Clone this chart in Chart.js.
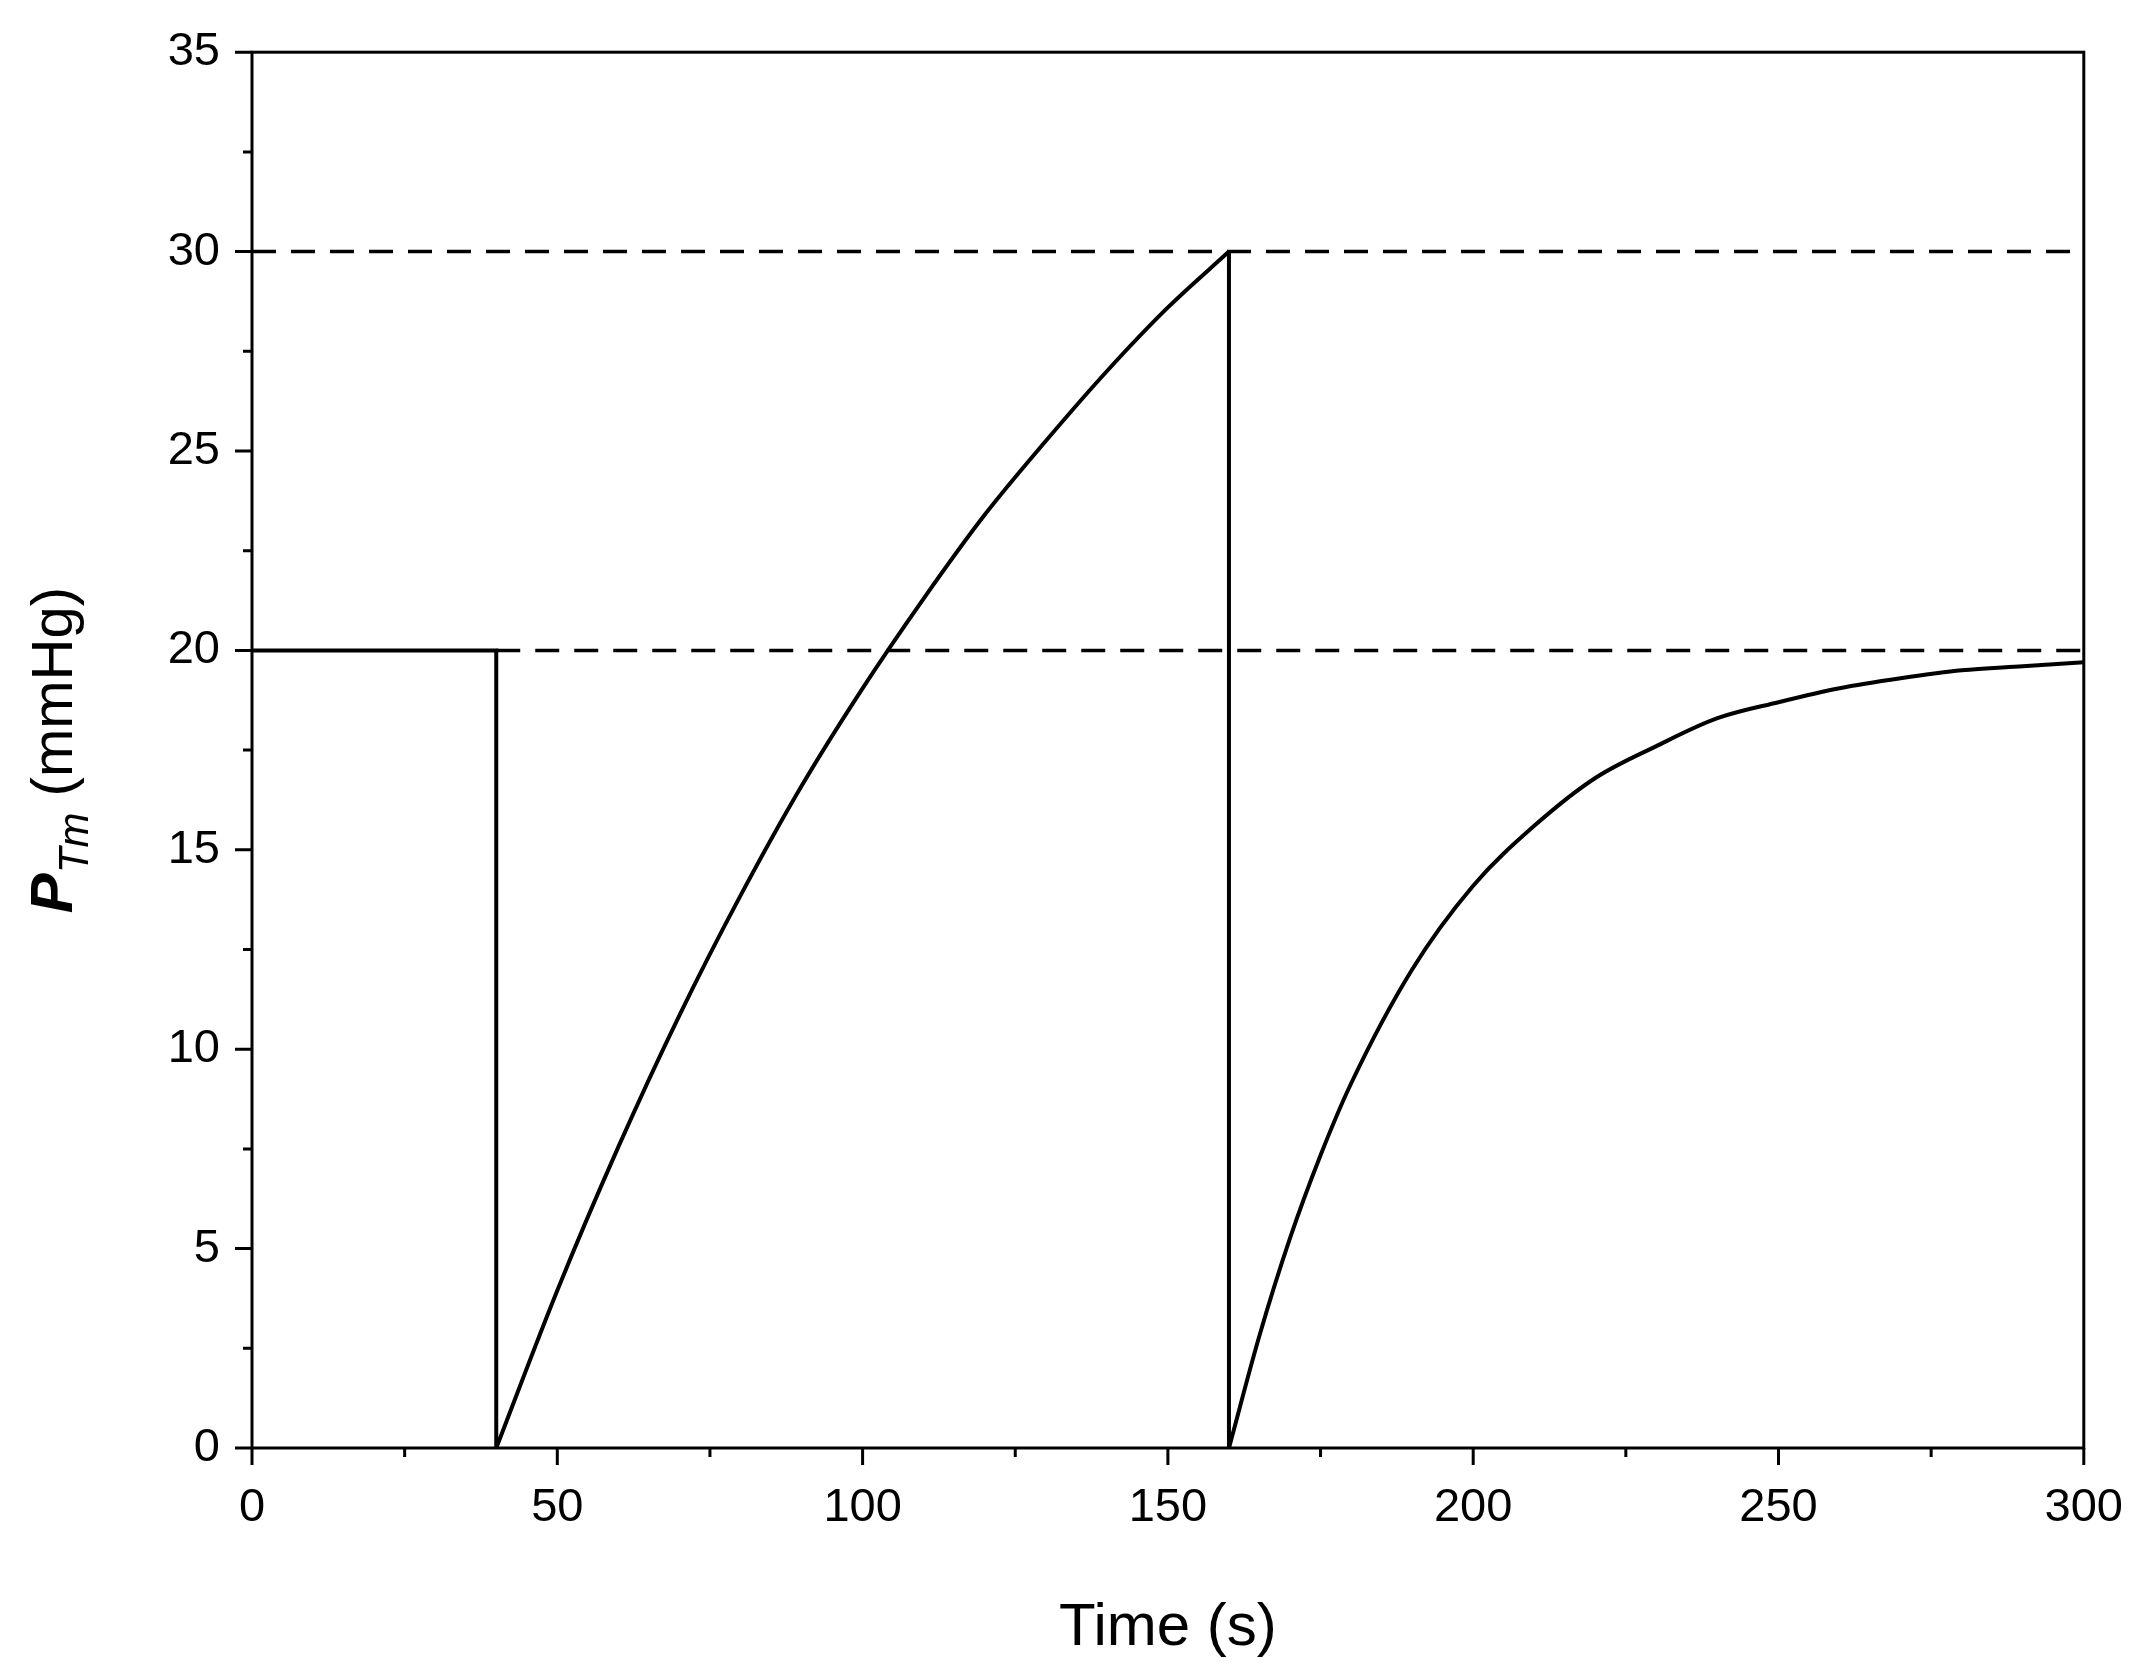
<!DOCTYPE html>
<html><head><meta charset="utf-8">
<script src="https://cdn.jsdelivr.net/npm/chart.js@4"></script>
<style>html,body{margin:0;background:#fff}#c{display:block}</style>
</head><body>
<div style="width:2147px;height:1670px"><canvas id="c"></canvas></div>
<script>
// Time (s) and transmural pressure (mmHg), per segment
const stepTime = [0,40,40];
const stepP = [20,20,0];
const rise1Time = [40,50,60,70,80,90,100,110,120,130,140,150,160];
const rise1P = [0,3.95,7.55,10.85,13.85,16.6,19.05,21.3,23.4,25.25,27.0,28.6,30];
const dropTime = [160,160];
const dropP = [30,0];
const rise2Time = [160,165,170,175,180,190,200,210,220,230,240,250,260,270,280,290,300];
const rise2P = [0,2.82,5.26,7.34,9.14,12.0,14.1,15.6,16.8,17.6,18.3,18.7,19.05,19.3,19.5,19.6,19.7];
const ref20x = [40,300], ref20y = [20,20];
const ref30x = [0,300], ref30y = [30,30];
const xTicks = [0,50,100,150,200,250,300];
const yTicks = [0,5,10,15,20,25,30,35];

const FONT = "'Liberation Sans', Arial, sans-serif";
const pts = (xs,ys)=>xs.map((x,i)=>({x, y: ys[i]}));
const solid = (xs,ys,curve)=>({data:pts(xs,ys), showLine:true, borderColor:'#000', borderWidth:4, pointRadius:0,
  cubicInterpolationMode: curve?'monotone':'default', tension:0, borderJoinStyle:'miter'});

const decor = {
  id:'decor',
  afterDraw(chart){
    const {ctx, chartArea:a, scales:{x,y}} = chart;
    ctx.save();
    ctx.strokeStyle='#000'; ctx.lineWidth=3;
    ctx.strokeRect(a.left,a.top,a.right-a.left,a.bottom-a.top);
    ctx.beginPath();
    for(let v=0; v<=300; v+=25){
      const p=x.getPixelForValue(v), L = v%50===0?17:9;
      ctx.moveTo(p,a.bottom); ctx.lineTo(p,a.bottom+L);
    }
    for(let v=0; v<=35; v+=2.5){
      const p=y.getPixelForValue(v), L = v%5===0?17:9;
      ctx.moveTo(a.left,p); ctx.lineTo(a.left-L,p);
    }
    ctx.stroke();
    ctx.fillStyle='#000';
    ctx.font = `60px ${FONT}`; ctx.textAlign='center'; ctx.textBaseline='middle';
    ctx.fillText('Time (s)', (a.left+a.right)/2, 1628);
    ctx.translate(52,(a.top+a.bottom)/2); ctx.rotate(-Math.PI/2);
    ctx.textAlign='left'; ctx.textBaseline='alphabetic';
    const p1='P', p2='Tm', p3=' (mmHg)';
    ctx.font=`italic bold 60px ${FONT}`; const w1=ctx.measureText(p1).width;
    ctx.font=`italic 42px ${FONT}`; const w2=ctx.measureText(p2).width;
    ctx.font=`58px ${FONT}`; const w3=ctx.measureText(p3).width;
    let sx=-(w1+w2+w3)/2, base=20;
    ctx.font=`italic bold 60px ${FONT}`; ctx.fillText(p1,sx,base); sx+=w1;
    ctx.font=`italic 42px ${FONT}`; ctx.fillText(p2,sx,base+16); sx+=w2;
    ctx.font=`58px ${FONT}`; ctx.fillText(p3,sx,base);
    ctx.restore();
  }
};

new Chart(document.getElementById('c'),{
  type:'scatter',
  data:{datasets:[
    solid(stepTime,stepP,false),
    solid(rise1Time,rise1P,true),
    solid(dropTime,dropP,false),
    solid(rise2Time,rise2P,true),
    {data:pts(ref20x,ref20y), showLine:true, borderColor:'#000', borderWidth:3.5, borderDash:[24,15], pointRadius:0},
    {data:pts(ref30x,ref30y), showLine:true, borderColor:'#000', borderWidth:3.5, borderDash:[24,15], pointRadius:0}
  ]},
  options:{
    responsive:true, maintainAspectRatio:false, animation:false,
    layout:{padding:{top:43,right:54,left:0,bottom:0}},
    plugins:{legend:{display:false}, tooltip:{enabled:false}},
    scales:{
      x:{type:'linear',min:0,max:300,
        afterBuildTicks:s=>{s.ticks=xTicks.map(v=>({value:v}));},
        grid:{display:false}, border:{display:false},
        ticks:{color:'#000',font:{family:FONT,size:47},padding:24,maxRotation:0},
        afterFit:s=>{s.height=222;}},
      y:{min:0,max:35,
        afterBuildTicks:s=>{s.ticks=yTicks.map(v=>({value:v}));},
        grid:{display:false}, border:{display:false},
        ticks:{color:'#000',font:{family:FONT,size:47},padding:24},
        afterFit:s=>{s.width=252;}}
    }
  },
  plugins:[decor]
});
</script>
</body></html>
